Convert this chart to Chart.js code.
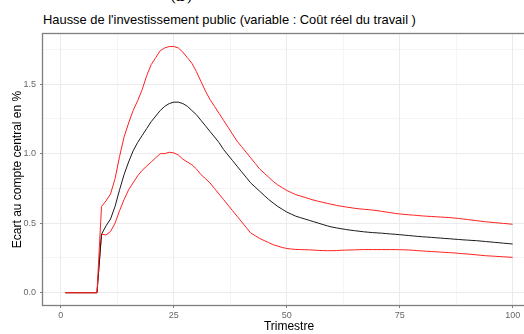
<!DOCTYPE html>
<html>
<head>
<meta charset="utf-8">
<script src="https://cdn.jsdelivr.net/npm/chart.js@4"></script>
<style>
    html, body { margin: 0; padding: 0; overflow: hidden; background: #fff; }
    #wrap { position: relative; width: 524px; height: 334px; overflow: hidden; }
    #title { position: absolute; left: 43px; top: 12px; font: 12.9px "Liberation Sans", Arial, sans-serif; color: #000; white-space: nowrap; }
    #cap { position: absolute; left: 170px; top: -14px; font: 16px "DejaVu Serif", serif; color: #000; }
    canvas { position: absolute; left: 0; top: 0; }
</style>
</head>
<body>
<div id="wrap">
    <div id="cap">(b)</div>
    <div id="title">Hausse de l'investissement public (variable : Coût réel du travail )</div>
    <canvas id="myChart" width="545" height="334"></canvas>
</div>
<script>
// trimestres 1..100
const quarters = Array.from({ length: 100 }, (_, i) => i + 1);

// écart au compte central (%)
const central = [
    0, 0, 0, 0, 0, 0, 0, 0, 0.42, 0.48,
    0.53, 0.62, 0.74, 0.85, 0.94, 1.02, 1.08, 1.13, 1.18, 1.23,
    1.27, 1.31, 1.34, 1.36, 1.37, 1.37, 1.36, 1.34, 1.31, 1.28,
    1.24, 1.20, 1.16, 1.12, 1.08, 1.03, 0.99, 0.95, 0.91, 0.87,
    0.83, 0.79, 0.76, 0.73, 0.70, 0.67, 0.645, 0.62, 0.60, 0.58,
    0.565, 0.55, 0.54, 0.53, 0.52, 0.51, 0.50, 0.49, 0.48, 0.472,
    0.466, 0.46, 0.455, 0.45, 0.446, 0.442, 0.438, 0.435, 0.432, 0.43,
    0.428, 0.425, 0.422, 0.42, 0.417, 0.414, 0.411, 0.408, 0.405, 0.402,
    0.40, 0.398, 0.395, 0.393, 0.39, 0.388, 0.385, 0.383, 0.38, 0.378,
    0.376, 0.374, 0.371, 0.368, 0.365, 0.362, 0.359, 0.356, 0.353, 0.35
];
const upper = [
    0, 0, 0, 0, 0, 0, 0, 0, 0.62, 0.66,
    0.71, 0.82, 0.98, 1.12, 1.22, 1.31, 1.38, 1.46, 1.56, 1.64,
    1.69, 1.74, 1.76, 1.77, 1.77, 1.76, 1.73, 1.69, 1.65, 1.59,
    1.52, 1.45, 1.39, 1.34, 1.29, 1.24, 1.19, 1.14, 1.09, 1.05,
    1.01, 0.97, 0.93, 0.89, 0.86, 0.83, 0.80, 0.775, 0.755, 0.735,
    0.72, 0.705, 0.695, 0.685, 0.675, 0.665, 0.657, 0.65, 0.642, 0.635,
    0.628, 0.622, 0.617, 0.612, 0.607, 0.603, 0.60, 0.597, 0.594, 0.59,
    0.585, 0.58, 0.575, 0.57, 0.566, 0.563, 0.56, 0.558, 0.555, 0.552,
    0.55, 0.548, 0.546, 0.544, 0.542, 0.54, 0.537, 0.534, 0.53, 0.526,
    0.522, 0.518, 0.514, 0.51, 0.507, 0.504, 0.501, 0.498, 0.495, 0.492
];
const lower = [
    0, 0, 0, 0, 0, 0, 0, 0, 0.42, 0.415,
    0.44, 0.50, 0.59, 0.67, 0.74, 0.79, 0.84, 0.88, 0.91, 0.94,
    0.97, 1.00, 1.00, 1.01, 1.005, 0.99, 0.96, 0.94, 0.92, 0.89,
    0.85, 0.82, 0.79, 0.75, 0.71, 0.67, 0.63, 0.59, 0.55, 0.51,
    0.47, 0.43, 0.41, 0.39, 0.375, 0.36, 0.345, 0.335, 0.325, 0.318,
    0.314, 0.311, 0.31, 0.309, 0.308, 0.306, 0.304, 0.303, 0.302, 0.302,
    0.303, 0.305, 0.306, 0.307, 0.308, 0.309, 0.31, 0.31, 0.31, 0.31,
    0.31, 0.31, 0.31, 0.31, 0.309, 0.308, 0.307, 0.305, 0.302, 0.30,
    0.298, 0.296, 0.294, 0.292, 0.29, 0.288, 0.286, 0.283, 0.28, 0.278,
    0.275, 0.272, 0.269, 0.266, 0.264, 0.262, 0.26, 0.258, 0.256, 0.254
];

// graduations (majeures + mineures façon ggplot)
const xTicks = [0, 12.5, 25, 37.5, 50, 62.5, 75, 87.5, 100];
const xMajor = [0, 25, 50, 75, 100];
const yTicks = [0, 0.25, 0.5, 0.75, 1.0, 1.25, 1.5, 1.75];
const yMajor = [0, 0.5, 1.0, 1.5];

const GRID = '#EBEBEB';
const AXIS = '#7F7F7F';
const TICKTXT = '#666666';
const FONT = '"Liberation Sans", Arial, sans-serif';

function toPoints(values) {
    return quarters.map((t, i) => ({ x: t, y: values[i] }));
}

// cadre du panneau (theme_bw)
const panelBorder = {
    id: 'panelBorder',
    afterDraw(chart) {
        const { ctx, chartArea } = chart;
        ctx.save();
        ctx.strokeStyle = AXIS;
        ctx.lineWidth = 1.3;
        ctx.strokeRect(chartArea.left - 0.5, chartArea.top - 0.5,
            chartArea.right - chartArea.left + 1, chartArea.bottom - chartArea.top + 1);
        ctx.restore();
    }
};

const data = {
    datasets: [
        { label: 'haut', data: toPoints(upper), borderColor: '#FF2020' },
        { label: 'central', data: toPoints(central), borderColor: '#1A1A1A' },
        { label: 'bas', data: toPoints(lower), borderColor: '#FF2020' }
    ]
};

const config = {
    type: 'line',
    data: data,
    options: {
        responsive: false,
        animation: false,
        layout: { padding: { top: 34, right: 10, left: 0, bottom: 0 } },
        elements: {
            line: { borderWidth: 1, tension: 0 },
            point: { radius: 0 }
        },
        scales: {
            x: {
                type: 'linear',
                min: -3.95,
                max: 104.95,
                afterBuildTicks: s => { s.ticks = xTicks.map(v => ({ value: v })); },
                afterFit: s => { s.height = 29; },
                ticks: {
                    autoSkip: false,
                    maxRotation: 0,
                    padding: 2,
                    color: TICKTXT,
                    font: { family: FONT, size: 9 },
                    callback: v => xMajor.includes(v) ? String(v) : ''
                },
                grid: {
                    color: GRID,
                    lineWidth: c => (c.tick && xMajor.includes(c.tick.value)) ? 1 : 0.5,
                    tickLength: 3,
                    tickColor: c => (c.tick && xMajor.includes(c.tick.value)) ? AXIS : 'rgba(0,0,0,0)'
                },
                border: { display: false },
                title: {
                    display: true,
                    text: 'Trimestre',
                    color: '#000',
                    font: { family: FONT, size: 12 },
                    padding: { top: 0, bottom: 0 }
                }
            },
            y: {
                type: 'linear',
                min: -0.0885,
                max: 1.86,
                afterBuildTicks: s => { s.ticks = yTicks.map(v => ({ value: v })); },
                afterFit: s => { s.width = 43; },
                ticks: {
                    autoSkip: false,
                    padding: 4,
                    color: TICKTXT,
                    font: { family: FONT, size: 9 },
                    callback: v => yMajor.includes(v) ? v.toFixed(1) : ''
                },
                grid: {
                    color: GRID,
                    lineWidth: c => (c.tick && yMajor.includes(c.tick.value)) ? 1 : 0.5,
                    tickLength: 3,
                    tickColor: c => (c.tick && yMajor.includes(c.tick.value)) ? AXIS : 'rgba(0,0,0,0)'
                },
                border: { display: false },
                title: {
                    display: true,
                    text: 'Ecart au compte central en %',
                    color: '#000',
                    font: { family: FONT, size: 12 },
                    padding: { top: 10, bottom: 0 }
                }
            }
        },
        plugins: {
            legend: { display: false },
            tooltip: { enabled: false }
        }
    },
    plugins: [panelBorder]
};

const myChart = new Chart(document.getElementById('myChart'), config);
</script>
</body>
</html>
